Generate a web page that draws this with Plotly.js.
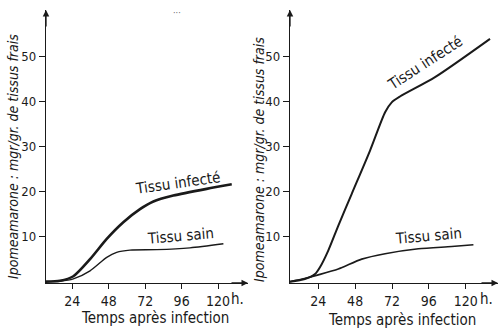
<!DOCTYPE html>
<html><head><meta charset="utf-8">
<script src="https://cdn.plot.ly/plotly-3.0.1.min.js"></script>
<style>html,body{margin:0;padding:0;background:#fff;}</style>
</head><body>
<div id="chart" style="width:500px;height:331px;"></div>
<script>
// Left panel
const leftInfHours = [6.5, 15.9, 24.7, 35.7, 46.7, 57.6, 68.6, 77.4, 90.5, 112.5, 129.0];
const leftInfVals  = [0, 0.2, 1.2, 5.0, 9.5, 13.2, 16.1, 17.8, 19.1, 20.6, 21.6];
const leftSainHours = [6.5, 15.9, 24.7, 35.7, 46.7, 53.2, 62.0, 79.6, 101.5, 123.5];
const leftSainVals  = [0, 0.1, 0.6, 2.4, 5.4, 6.5, 7.0, 7.1, 7.5, 8.4];
// Right panel
const rightInfHours = [5.6, 15.3, 21.9, 25.1, 30.5, 37.0, 45.8, 57.7, 67.5, 71.8, 77.2, 100.0, 135.8];
const rightInfVals  = [0, 0.6, 1.7, 3.2, 6.9, 12.4, 19.5, 29.1, 37.6, 39.8, 41.1, 45.4, 53.9];
const rightSainHours = [5.6, 15, 24, 37, 52.3, 67.5, 89.2, 110.9, 125];
const rightSainVals  = [0, 0.7, 1.5, 2.8, 5.0, 6.2, 7.3, 7.8, 8.2];

const xTickVals = [24, 48, 72, 96, 120];
const xTickText = ['24', '48', '72', '96', '120'];
const yTickVals = [10, 20, 30, 40, 50];
const yTickText = ['10', '20', '30', '40', '50'];

const FONT = '"DejaVu Sans Condensed", "DejaVu Sans", sans-serif';
const INK = '#1a1a1a';

function line(x, y, w, xa, ya) {
  return {x: x, y: y, type: 'scatter', mode: 'lines', xaxis: xa, yaxis: ya,
    line: {color: INK, width: w, shape: 'spline', smoothing: 0.7}, hoverinfo: 'skip', showlegend: false};
}
const data = [
  line(leftInfHours, leftInfVals, 2.6, 'x', 'y'),
  line(leftSainHours, leftSainVals, 1.4, 'x', 'y'),
  line(rightInfHours, rightInfVals, 2.0, 'x2', 'y2'),
  line(rightSainHours, rightSainVals, 1.6, 'x2', 'y2')
];

const yDom = [1 - 283/331, 1 - 10/331];
function xa(domain, range, anchor) {
  return {domain: domain, range: range, anchor: anchor, showgrid: false, zeroline: false,
    showline: true, linecolor: INK, linewidth: 1.2,
    ticks: 'outside', ticklen: 5, tickwidth: 1, tickcolor: INK,
    tickvals: xTickVals, ticktext: xTickText,
    tickfont: {family: FONT, size: 14, color: INK}, fixedrange: true};
}
function ya(anchor, range) {
  return {domain: yDom, range: range, anchor: anchor, showgrid: false, zeroline: false,
    showline: true, linecolor: INK, linewidth: 1.2,
    ticks: 'outside', ticklen: 6, tickwidth: 1, tickcolor: INK,
    tickvals: yTickVals, ticktext: yTickText,
    tickfont: {family: FONT, size: 13, color: INK}, fixedrange: true};
}
const yRange = [-0.3, 60.3];
const xRangeL = [6.7, 139.7];
const xRangeR = [5.6, 141];
const domL = [46/500, 248/500];
const domR = [290/500, 498/500];

function lab(text, x, y, xref, yref, angle, size, extra) {
  return Object.assign({text: text, x: x, y: y, xref: xref, yref: yref, showarrow: false,
    textangle: angle, font: {family: FONT, size: size, color: INK},
    xanchor: 'center', yanchor: 'middle'}, extra || {});
}
function arrow(xp, yp, ax, ay) {
  return {x: xp, y: yp, xref: 'paper', yref: 'paper', ax: ax, ay: ay, showarrow: true,
    arrowhead: 2, arrowsize: 1, arrowwidth: 1.3, arrowcolor: INK, text: ''};
}

const annotations = [
  lab('Tissu infecté', 93.5, 21.9, 'x', 'y', -8, 15),
  lab('Tissu sain', 95, 10.1, 'x', 'y', -5, 15),
  lab('Tissu infecté', 93.5, 48.6, 'x2', 'y2', -33, 15),
  lab('Tissu sain', 95.5, 10.1, 'x2', 'y2', -5, 15),
  lab('Temps après infection', 155/500, 1 - 318/331, 'paper', 'paper', 0, 15),
  lab('Temps après infection', 402/500, 1 - 320/331, 'paper', 'paper', 0, 15),
  lab('h.', 237/500, 1 - 299/331, 'paper', 'paper', 0, 15),
  lab('h.', 486/500, 1 - 299/331, 'paper', 'paper', 0, 15),
  lab('<i>Ipomeamarone : mgr/gr. de tissus frais</i>', 13/500, 1 - 157/331, 'paper', 'paper', -90, 14),
  lab('<i>Ipomeamarone : mgr/gr. de tissus frais</i>', 259/500, 1 - 160/331, 'paper', 'paper', -90, 14),
  lab('···', 177/500, 1 - 13/331, 'paper', 'paper', 0, 9, {font: {family: FONT, size: 9, color: '#666'}}),
  arrow(domL[0], yDom[1], 0, 18),
  arrow(domR[0], yDom[1], 0, 18),
  arrow(domL[1], yDom[0], -18, 0),
  arrow(domR[1], yDom[0], -18, 0)
];

const layout = {
  width: 500, height: 331,
  margin: {l: 0, r: 0, t: 0, b: 0},
  paper_bgcolor: '#fff', plot_bgcolor: '#fff',
  showlegend: false,
  xaxis: xa(domL, xRangeL, 'y'),
  yaxis: ya('x', yRange),
  xaxis2: xa(domR, xRangeR, 'y2'),
  yaxis2: ya('x2', yRange),
  annotations: annotations
};
Plotly.newPlot('chart', data, layout, {staticPlot: true, displayModeBar: false});
</script>
</body></html>
